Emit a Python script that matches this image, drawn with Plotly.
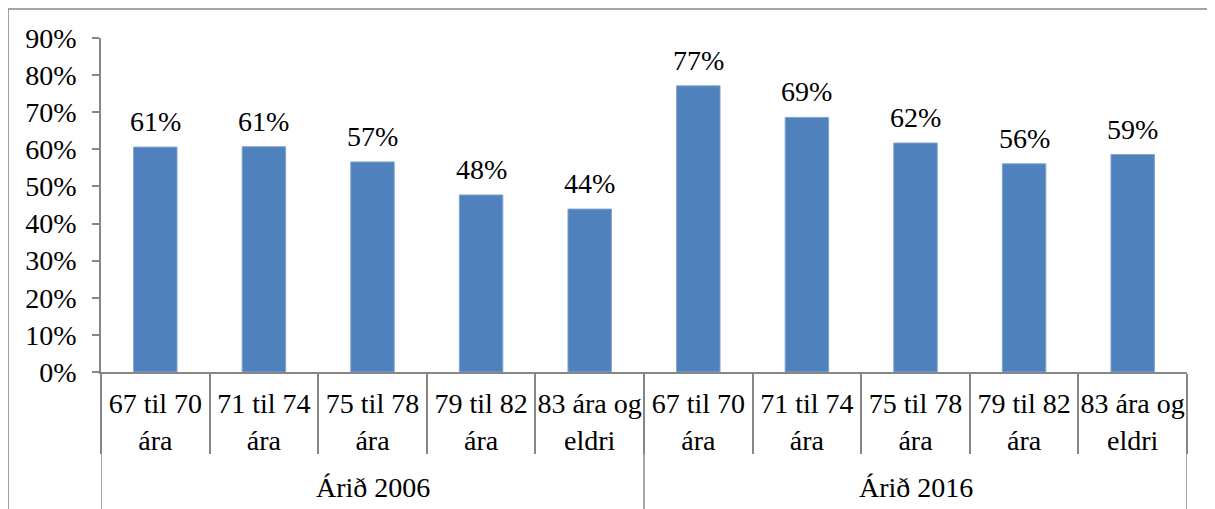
import plotly.graph_objects as go

groups = ["Árið 2006", "Árið 2016"]
age_groups = ["67 til 70<br>ára", "71 til 74<br>ára", "75 til 78<br>ára",
              "79 til 82<br>ára", "83 ára og<br>eldri"]
values_2006 = [0.606, 0.607, 0.566, 0.477, 0.439]
values_2016 = [0.771, 0.686, 0.617, 0.561, 0.586]

values = values_2006 + values_2016
ticktext = age_groups + age_groups
n = len(values)
xs = list(range(n))

FONT = "Liberation Serif"
GRAY = "#868686"
FS = 28

fig = go.Figure()
fig.add_trace(go.Bar(
    x=xs, y=values,
    marker=dict(color="#4F81BD", line=dict(color="#7FA3D3", width=1)),
    width=0.4, hoverinfo="y",
))

# value labels above bars
for xi, v in zip(xs, values):
    fig.add_annotation(x=xi, y=v, xref="x", yref="y", text=f"{v:.0%}",
                       showarrow=False, yanchor="bottom", yshift=8,
                       font=dict(family=FONT, size=FS, color="black"))

boundaries = [i - 0.5 for i in range(n + 1)]
fig.update_xaxes(
    range=[-0.5, n - 0.5], tickvals=xs, ticktext=ticktext,
    showline=True, linecolor=GRAY, linewidth=1.5, showgrid=False, zeroline=False,
    ticks="", tickfont=dict(family=FONT, size=FS, color="black"),
    ticklabelstandoff=6,
    minor=dict(tickvals=boundaries, ticks="outside", ticklen=80,
               tickcolor=GRAY, tickwidth=1.5),
)
fig.update_yaxes(
    range=[0, 0.9], dtick=0.1, tickformat=".0%",
    showline=True, linecolor=GRAY, linewidth=1.5, showgrid=False, zeroline=False,
    ticks="outside", ticklen=7, tickcolor=GRAY, tickwidth=1.5,
    tickfont=dict(family=FONT, size=FS, color="black"),
    ticklabelstandoff=10,
)

# group dividers and labels
gsize = len(age_groups)
for gi, g in enumerate(groups):
    center = gi * gsize + (gsize - 1) / 2
    fig.add_annotation(x=center, xref="x", y=-0.347, yref="paper", text=g,
                       showarrow=False, yanchor="middle",
                       font=dict(family=FONT, size=FS, color="black"))
for b in [-0.5 + gi * gsize for gi in range(len(groups) + 1)]:
    fig.add_shape(type="line", xref="x", yref="paper", x0=b, x1=b,
                  y0=0, y1=-0.42, line=dict(color=GRAY, width=1.5))

# outer frame
fig.add_shape(type="line", xref="paper", yref="paper", x0=-0.0856, x1=-0.0856,
              y0=1.087, y1=-0.42, line=dict(color=GRAY, width=1.5))
fig.add_shape(type="line", xref="paper", yref="paper", x0=-0.0856, x1=1.03,
              y0=1.087, y1=1.087, line=dict(color=GRAY, width=1.5))

fig.update_layout(
    width=1207, height=501,
    margin=dict(l=93, r=28, t=30, b=137),
    paper_bgcolor="white", plot_bgcolor="white",
    showlegend=False,
    font=dict(family=FONT, size=FS, color="black"),
)

fig.write_html("out.html")
